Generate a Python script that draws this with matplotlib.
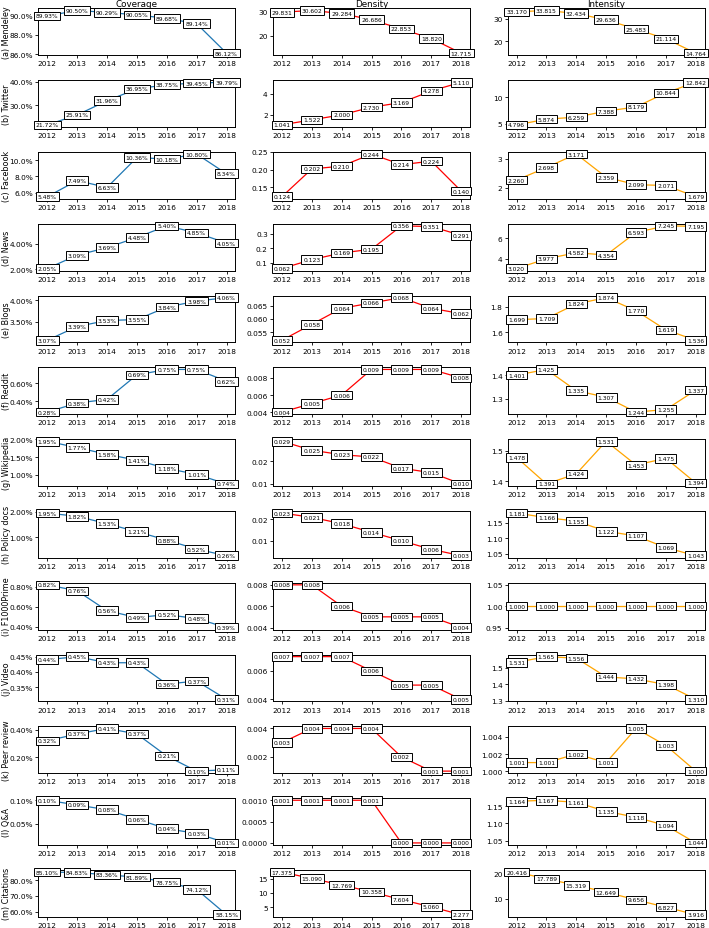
import matplotlib
matplotlib.use("Agg")
import matplotlib.pyplot as plt
from matplotlib.ticker import FuncFormatter, ScalarFormatter, MaxNLocator

years = [2012, 2013, 2014, 2015, 2016, 2017, 2018]

sources = ["(a) Mendeley", "(b) Twitter", "(c) Facebook", "(d) News", "(e) Blogs",
           "(f) Reddit", "(g) Wikipedia", "(h) Policy docs", "(i) F1000Prime",
           "(j) Video", "(k) Peer review", "(l) Q&A", "(m) Citations"]

# coverage in percent
coverage = [
    [89.93, 90.50, 90.29, 90.05, 89.68, 89.14, 86.12],
    [21.72, 25.91, 31.96, 36.95, 38.75, 39.45, 39.79],
    [5.48, 7.49, 6.63, 10.36, 10.18, 10.80, 8.34],
    [2.05, 3.09, 3.69, 4.48, 5.40, 4.85, 4.05],
    [3.07, 3.39, 3.53, 3.55, 3.84, 3.98, 4.06],
    [0.28, 0.38, 0.42, 0.69, 0.75, 0.75, 0.62],
    [1.95, 1.77, 1.58, 1.41, 1.18, 1.01, 0.74],
    [1.95, 1.82, 1.53, 1.21, 0.88, 0.52, 0.26],
    [0.82, 0.76, 0.56, 0.49, 0.52, 0.48, 0.39],
    [0.44, 0.45, 0.43, 0.43, 0.36, 0.37, 0.31],
    [0.32, 0.37, 0.41, 0.37, 0.21, 0.10, 0.11],
    [0.10, 0.09, 0.08, 0.06, 0.04, 0.03, 0.01],
    [85.10, 84.83, 83.36, 81.89, 78.75, 74.12, 58.15],
]
cov_tick_dec = [1, 1, 1, 2, 2, 2, 2, 2, 2, 2, 2, 2, 1]

density = [
    [29.831, 30.602, 29.284, 26.686, 22.853, 18.820, 12.715],
    [1.041, 1.522, 2.000, 2.730, 3.169, 4.278, 5.110],
    [0.124, 0.202, 0.210, 0.244, 0.214, 0.224, 0.140],
    [0.062, 0.123, 0.169, 0.195, 0.356, 0.351, 0.291],
    [0.052, 0.058, 0.064, 0.066, 0.068, 0.064, 0.062],
    [0.004, 0.005, 0.006, 0.009, 0.009, 0.009, 0.008],
    [0.029, 0.025, 0.023, 0.022, 0.017, 0.015, 0.010],
    [0.023, 0.021, 0.018, 0.014, 0.010, 0.006, 0.003],
    [0.008, 0.008, 0.006, 0.005, 0.005, 0.005, 0.004],
    [0.007, 0.007, 0.007, 0.006, 0.005, 0.005, 0.004],
    [0.003, 0.004, 0.004, 0.004, 0.002, 0.001, 0.001],
    [0.001, 0.001, 0.001, 0.001, 0.000, 0.000, 0.000],
    [17.375, 15.090, 12.769, 10.358, 7.604, 5.060, 2.277],
]
density_lbl = [None] * 13
density_lbl[9] = ["0.007", "0.007", "0.007", "0.006", "0.005", "0.005", "0.005"]

intensity = [
    [33.170, 33.815, 32.434, 29.636, 25.483, 21.114, 14.764],
    [4.796, 5.874, 6.259, 7.388, 8.179, 10.844, 12.842],
    [2.260, 2.698, 3.171, 2.359, 2.099, 2.071, 1.679],
    [3.020, 3.977, 4.582, 4.354, 6.593, 7.245, 7.195],
    [1.699, 1.709, 1.824, 1.874, 1.770, 1.619, 1.536],
    [1.401, 1.425, 1.335, 1.307, 1.244, 1.255, 1.337],
    [1.478, 1.391, 1.424, 1.531, 1.453, 1.475, 1.394],
    [1.181, 1.166, 1.155, 1.122, 1.107, 1.069, 1.043],
    [1.000, 1.000, 1.000, 1.000, 1.000, 1.000, 1.000],
    [1.531, 1.565, 1.556, 1.444, 1.432, 1.398, 1.310],
    [1.001, 1.001, 1.002, 1.001, 1.005, 1.003, 1.000],
    [1.164, 1.167, 1.161, 1.135, 1.118, 1.094, 1.044],
    [20.416, 17.789, 15.319, 12.649, 9.656, 6.827, 3.916],
]

titles = ["Coverage", "Density", "Intensity"]
colors = ["#1f77b4", "red", "orange"]

fig, axes = plt.subplots(13, 3, figsize=(7.09, 9.29), dpi=100)
plt.subplots_adjust(left=0.054, right=0.994, top=0.990, bottom=0.012,
                    wspace=0.19, hspace=0.53)

box = dict(boxstyle="square,pad=0.3", fc="white", ec="black", lw=0.7)

for i in range(13):
    for j, data in enumerate([coverage, density, intensity]):
        ax = axes[i, j]
        vals = data[i]
        ax.plot(years, vals, color=colors[j], lw=0.9)
        for k, (x, y) in enumerate(zip(years, vals)):
            if j == 0:
                s = "%.2f%%" % y
            elif j == 1 and density_lbl[i] is not None:
                s = density_lbl[i][k]
            else:
                s = "%.3f" % y
            ax.text(x, y, s, ha="center", va="center", fontsize=4.3, bbox=box,
                    zorder=3, clip_on=False)
        ax.set_xticks(years)
        ax.yaxis.set_major_locator(MaxNLocator(nbins=3, steps=[1, 2, 2.5, 5, 10]))
        ax.tick_params(labelsize=5.3, length=2.2, width=0.6, pad=1.5)
        for sp in ax.spines.values():
            sp.set_linewidth(0.7)
        if j == 0:
            d = cov_tick_dec[i]
            ax.yaxis.set_major_formatter(FuncFormatter(lambda v, p, d=d: "%.*f%%" % (d, v)))
            ax.set_ylabel(sources[i], fontsize=5.8)
            ax.yaxis.set_label_coords(-0.14, 0.5)
        else:
            fmt = ScalarFormatter(useOffset=False)
            ax.yaxis.set_major_formatter(fmt)
        if i == 0:
            ax.set_title(titles[j], fontsize=6.3, pad=1.5)

fig.savefig("out.png", dpi=100)
